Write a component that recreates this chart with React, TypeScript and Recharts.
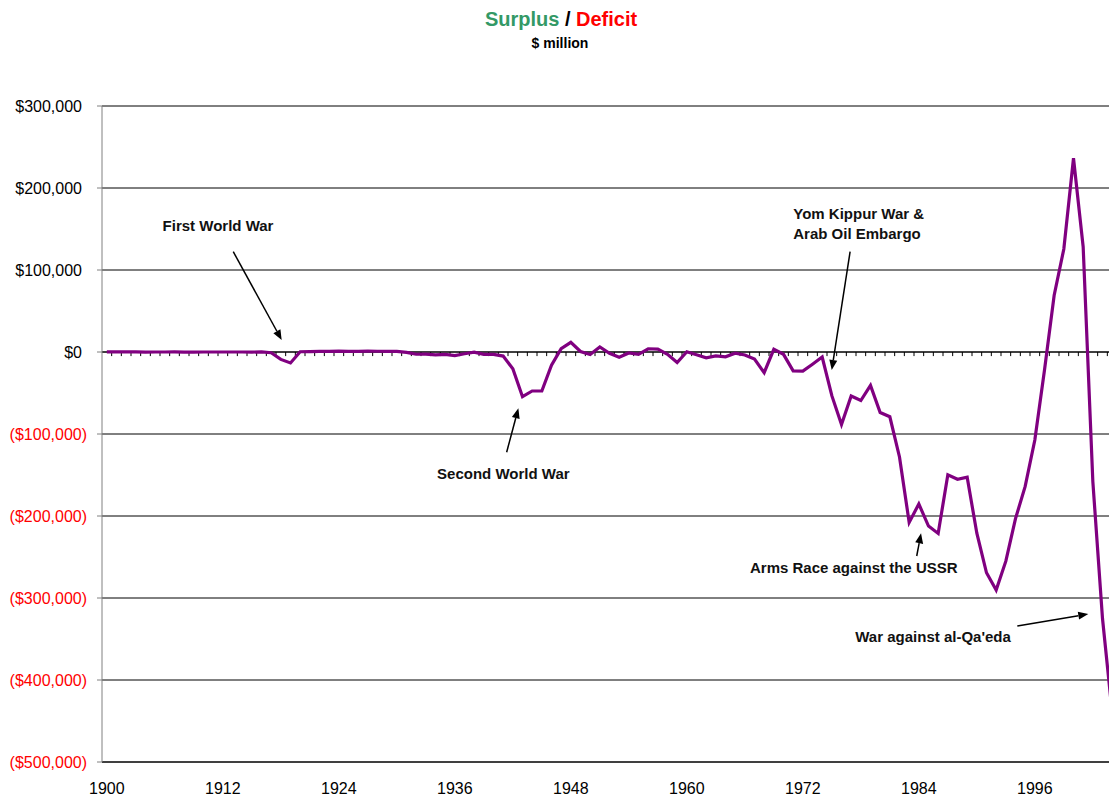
import React from 'react';
import { LineChart, Line, XAxis, YAxis, CartesianGrid, ReferenceLine, ReferenceDot } from 'recharts';

// fiscal years shown on the chart
const years = [
  1900, 1901, 1902, 1903, 1904, 1905, 1906, 1907, 1908, 1909,
  1910, 1911, 1912, 1913, 1914, 1915, 1916, 1917, 1918, 1919,
  1920, 1921, 1922, 1923, 1924, 1925, 1926, 1927, 1928, 1929,
  1930, 1931, 1932, 1933, 1934, 1935, 1936, 1937, 1938, 1939,
  1940, 1941, 1942, 1943, 1944, 1945, 1946, 1947, 1948, 1949,
  1950, 1951, 1952, 1953, 1954, 1955, 1956, 1957, 1958, 1959,
  1960, 1961, 1962, 1963, 1964, 1965, 1966, 1967, 1968, 1969,
  1970, 1971, 1972, 1973, 1974, 1975, 1976, 1977, 1978, 1979,
  1980, 1981, 1982, 1983, 1984, 1985, 1986, 1987, 1988, 1989,
  1990, 1991, 1992, 1993, 1994, 1995, 1996, 1997, 1998, 1999,
  2000, 2001, 2002, 2003, 2004,
];

// surplus (+) / deficit (-), $ million
const balance = [
  46, 63, 77, 45, -43, -23, 25, 87, -57, -89,
  -18, 11, 3, 0, 0, -63, 48, -853, -9032, -13363,
  291, 509, 736, 713, 963, 717, 865, 1155, 939, 734,
  738, -462, -2735, -2602, -3586, -2803, -4304, -2193, -89, -2846,
  -2920, -4941, -20503, -54554, -47557, -47553, -15936, 4018, 11796, 580,
  -3119, 6102, -1519, -6493, -1154, -2993, 3947, 3412, -2769, -12849,
  301, -3335, -7146, -4756, -5915, -1411, -3698, -8643, -25161, 3242,
  -2842, -23033, -23373, -14908, -6135, -53242, -88476, -53659, -59185, -40726,
  -73830, -78968, -127977, -207802, -185367, -212308, -221227, -149730, -155178, -152639,
  -221036, -269238, -290321, -255051, -203186, -163952, -107431, -21884, 69270, 125610,
  236241, 128236, -157758, -325000, -440000,
];

const xTicks = [1900, 1912, 1924, 1936, 1948, 1960, 1972, 1984, 1996];
const yTicks = [-500000, -400000, -300000, -200000, -100000, 0, 100000, 200000, 300000];

const data = years.map((year, i) => ({ year, value: balance[i] }));

// call-outs: text anchor and arrow start / tip, in chart units
const notes = [
  { lines: ['First World War'], anchor: 'middle', at: [1911.5, 147600], from: [1913.08, 122300], to: [1918.09, 14600] },
  { lines: ['Second World War'], anchor: 'middle', at: [1941.02, -154900], from: [1941.36, -122300], to: [1942.57, -68700] },
  { lines: ['Yom Kippur War &', 'Arab Oil Embargo'], anchor: 'start', at: [1971.01, 161800], from: [1976.89, 122300], to: [1974.99, -21900] },
  { lines: ['Arms Race against the USSR'], anchor: 'middle', at: [1977.27, -269900], from: [1983.78, -248800], to: [1984.23, -221100] },
  { lines: ["War against al-Qa'eda"], anchor: 'middle', at: [1985.47, -353300], from: [1994.19, -334100], to: [2001.53, -319500] },
];

const FONT = '"Liberation Sans", Arial, sans-serif';

const money = (v: number) => {
  const s = '$' + Math.abs(v).toLocaleString('en-US');
  return v < 0 ? `(${s})` : s;
};

// positives keep room for the ")" like the accounting format does
const YTick = ({ x, y, payload }: any) => (
  <text x={payload.value < 0 ? x : x - 5} y={y} dy="0.35em" textAnchor="end" fontSize={16} fontFamily={FONT}
    fill={payload.value < 0 ? '#ff0000' : '#000'}>
    {money(payload.value)}
  </text>
);

const Arrow = ({ x1, y1, x2, y2 }: any) => {
  const dx = x2 - x1;
  const dy = y2 - y1;
  const len = Math.hypot(dx, dy) || 1;
  const ux = dx / len;
  const uy = dy / len;
  const bx = x2 - ux * 10;
  const by = y2 - uy * 10;
  return (
    <g>
      <line x1={x1} y1={y1} x2={bx} y2={by} stroke="#000" strokeWidth={1.5} />
      <polygon
        points={`${x2},${y2} ${bx - uy * 4},${by + ux * 4} ${bx + uy * 4},${by - ux * 4}`}
        fill="#000"
      />
    </g>
  );
};

const noteText = (lines: string[], anchor: string) => (p: any) => (
  <text x={p.cx} y={p.cy} textAnchor={anchor} fontSize={15} fontWeight="bold" fontFamily={FONT} fill="#111">
    {lines.map((l, i) => (
      <tspan key={i} x={p.cx} dy={i === 0 ? 0 : 20}>{l}</tspan>
    ))}
  </text>
);

export default function App() {
  return (
    <div style={{ position: 'absolute', left: 0, top: 0, width: 1109, height: 798, overflow: 'hidden', background: '#fff' }}>
      <div style={{ position: 'absolute', left: 0, top: 7, width: 1122, textAlign: 'center', fontFamily: FONT, fontWeight: 'bold', fontSize: 20, lineHeight: '24px' }}>
        <span style={{ color: '#339966' }}>Surplus</span> / <span style={{ color: '#ff0000' }}>Deficit</span>
      </div>
      <div style={{ position: 'absolute', left: 0, top: 34, width: 1120, textAlign: 'center', fontFamily: FONT, fontWeight: 'bold', fontSize: 14, lineHeight: '18px' }}>
        $ million
      </div>
      <LineChart width={1120} height={798} data={data} margin={{ top: 106, right: 3, left: 0, bottom: 0 }}>
        <CartesianGrid horizontal vertical={false} stroke="#000" />
        <XAxis
          dataKey="year"
          type="number"
          domain={[1899.5, 2004.5]}
          ticks={xTicks}
          interval={0}
          height={36}
          tickLine={false}
          tickSize={0}
          tickMargin={21}
          axisLine={{ stroke: '#000' }}
          tick={{ fill: '#000', fontSize: 16, fontFamily: FONT }}
        />
        <YAxis
          type="number"
          domain={[-500000, 300000]}
          ticks={yTicks}
          interval={0}
          width={102}
          tickSize={5}
          tickMargin={10}
          axisLine={{ stroke: '#808080' }}
          tickLine={{ stroke: '#808080' }}
          tick={<YTick />}
        />
        <ReferenceLine y={0} stroke="#000" />
        {years.map((yr) => (
          <ReferenceLine key={yr} segment={[{ x: yr + 0.5, y: 0 }, { x: yr + 0.5, y: -5000 }]} stroke="#000" />
        ))}
        <Line
          type="linear"
          dataKey="value"
          stroke="#800080"
          strokeWidth={3.2}
          dot={false}
          isAnimationActive={false}
        />
        {notes.map((n, i) => (
          <ReferenceLine
            key={'a' + i}
            segment={[{ x: n.from[0], y: n.from[1] }, { x: n.to[0], y: n.to[1] }]}
            shape={Arrow}
          />
        ))}
        {notes.map((n, i) => (
          <ReferenceDot key={'t' + i} x={n.at[0]} y={n.at[1]} r={0} shape={noteText(n.lines, n.anchor)} />
        ))}
      </LineChart>
    </div>
  );
}
